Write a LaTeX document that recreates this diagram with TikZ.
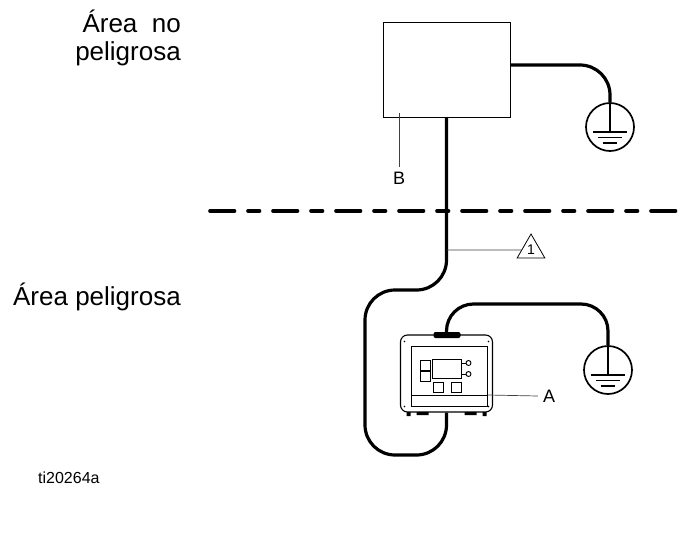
\documentclass[tikz,border=0pt]{standalone}
\usepackage{fontspec}
\setmainfont{Liberation Sans}
\usetikzlibrary{calc,shapes.geometric}

\begin{document}
\begin{tikzpicture}[x=1pt,y=-1pt,
    cable/.style={line width=3.2pt},
    leader/.style={line width=0.7pt, black!75},
    lbl/.style={inner sep=5pt, font=\fontsize{18}{18}\selectfont},
    zone/.style={inner sep=0pt, align=right, font=\fontsize{26}{28}\selectfont},
    gnd/.style={circle, draw, line width=1.7pt, minimum size=48pt, inner sep=0pt,
      path picture={
        \coordinate (c) at (path picture bounding box.center);
        \draw[line width=1.5pt] ($(c)+(0pt,24pt)$) -- ($(c)+(0pt,-5pt)$)
          ($(c)+(-17pt,-5pt)$) -- ($(c)+(17pt,-5pt)$)
          ($(c)+(-12pt,-10.5pt)$) -- ($(c)+(12pt,-10.5pt)$)
          ($(c)+(-7pt,-16pt)$) -- ($(c)+(7pt,-16pt)$);
      }}]
    \useasboundingbox (0,0) rectangle (680,538);

    % area labels and boundary
    \node[zone, anchor=north east] (safe) at (181,10) {Área~~no\\peligrosa};
    \node[zone, anchor=base east] (hazard) at (181,305) {Área peligrosa};
    \coordinate (lineL) at (210,211);
    \coordinate (lineR) at (684,211);
    \draw[line width=3.6pt, line cap=round,
      dash pattern=on 24.5pt off 13.5pt on 11.5pt off 13.5pt] (lineL) -- (lineR);

    % host box and grounds
    \node[draw, line width=1pt, minimum width=127pt, minimum height=95pt, inner sep=0pt] (hostbox) at (446.5,69.5) {};
    \node[gnd] (gndtop) at (610,127) {};
    \node[gnd] (gndlow) at (608,370) {};

    % the unit
    \node[draw, line width=1.1pt, rounded corners=7pt, minimum width=92pt, minimum height=77pt, inner sep=0pt] (unit) at (446.5,373.5) {};
    \begin{scope}[shift={(unit.center)}, line width=0.9pt]
      \draw (-35,-27.5) rectangle (41,32.5);
      \draw (-35,21.5) -- (41,21.5);
      \draw (-14,-14.5) rectangle (15,4.5);
      \draw (-26,-13.5) rectangle (-16,-3.5);
      \draw (-26,-2.5) rectangle (-16,7.5);
      \draw (-13,8.5) rectangle (-3,18.5);
      \draw (5,8.5) rectangle (15,18.5);
      \draw (15,-10.5) -- (19.5,-10.5) (15,0.5) -- (19.5,0.5);
      \draw (22,-10.5) circle (2.5) (22,0.5) circle (2.5);
      \fill[rounded corners=2pt] (-13,-41.5) rectangle (14,-35.5);
      \fill (-40,38.5) rectangle (-36,42.5) (-30,38.5) rectangle (-18,41.5)
            (18,38.5) rectangle (30,41.5) (36,38.5) rectangle (40,42.5);
      \foreach \sx/\sy in {-42/-32, 42/-32, -42/33, 42/33}
        \fill (\sx,\sy) circle (0.9);
    \end{scope}

    % cables
    \draw[cable, rounded corners=30pt] ([yshift=4.5pt]hostbox.east) -| (gndtop.north);
    \draw[cable, rounded corners=30pt] (hostbox.south) -- (hostbox.south |- 0,290)
      -- (365,290) -- (365,455) -- (unit.south |- 0,455) -- (unit.south);
    \draw[cable, rounded corners=27pt] ([yshift=2pt]unit.north) -- (unit.north |- 0,304)
      -- (gndlow.north |- 0,304) -- (gndlow.north);

    % callouts
    \node[regular polygon, regular polygon sides=3, draw, line width=0.8pt, minimum size=32pt,
      inner sep=0pt, font=\fontsize{14}{14}\selectfont] (note1) at (531,250) {1};
    \coordinate (tap) at (446.5,250);
    \draw[leader] (tap) -- (note1);
    \node[lbl] (labB) at (399,178.5) {B};
    \coordinate (Bend) at (399,113);
    \draw[leader] (labB.north) -- (Bend);
    \node[lbl] (labA) at (549,396) {A};
    \coordinate (Aend) at (488,395);
    \draw[leader] (labA.west) -- (Aend);

    \node[anchor=base west, inner sep=0pt, font=\fontsize{16}{16}\selectfont] (figno) at (38,483) {ti20264a};
\end{tikzpicture}
\end{document}
